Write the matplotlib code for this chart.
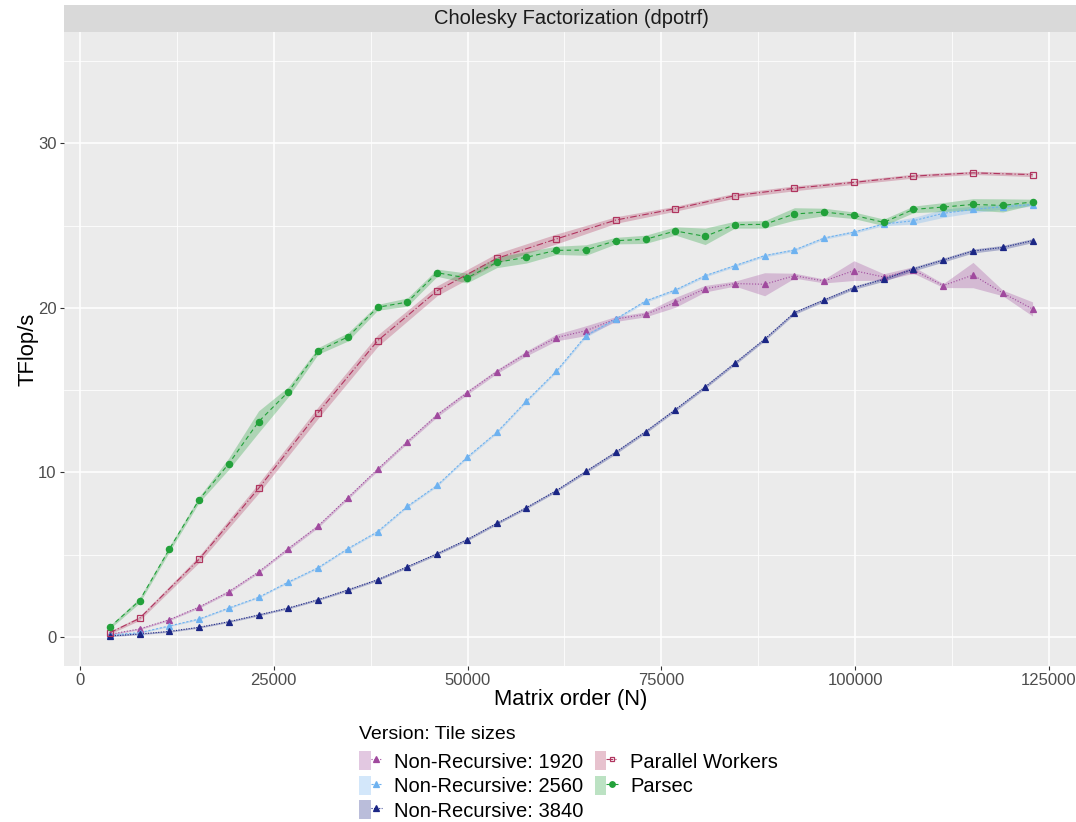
import numpy as np
import matplotlib
matplotlib.use("Agg")
import matplotlib.pyplot as plt
from matplotlib.lines import Line2D
from matplotlib.patches import Patch
from matplotlib.legend_handler import HandlerTuple

plt.rcParams['font.family'] = ['Liberation Sans', 'DejaVu Sans']

# matrix orders (N)
n_all = [3840, 7680, 11520, 15360, 19200, 23040, 26880, 30720, 34560, 38400,
         42240, 46080, 49920, 53760, 57600, 61440, 65280, 69120, 72960, 76800,
         80640, 84480, 88320, 92160, 96000, 99840, 103680, 107520, 111360,
         115200, 119040, 122880]
n_pw = [3840, 7680, 15360, 23040, 30720, 38400, 46080, 53760, 61440, 69120,
        76800, 84480, 92160, 99840, 107520, 115200, 122880]

# TFlop/s (mean) and half width of the shaded band
nr1920 = [0.16, 0.49, 1.05, 1.82, 2.75, 3.95, 5.37, 6.74, 8.46, 10.19, 11.87,
          13.49, 14.84, 16.12, 17.23, 18.19, 18.61, 19.32, 19.6, 20.33, 21.16,
          21.47, 21.43, 21.95, 21.63, 22.26, 21.87, 22.3, 21.35, 21.99, 20.9, 19.93]
nr1920_hw = [0.05, 0.05, 0.06, 0.07, 0.08, 0.08, 0.1, 0.1, 0.1, 0.1, 0.1, 0.12,
             0.12, 0.12, 0.15, 0.2, 0.3, 0.15, 0.15, 0.3, 0.2, 0.15, 0.7, 0.15,
             0.12, 0.6, 0.2, 0.2, 0.12, 0.77, 0.17, 0.43]

nr2560 = [0.12, 0.26, 0.67, 1.09, 1.76, 2.41, 3.34, 4.21, 5.37, 6.4, 7.94, 9.21,
          10.91, 12.43, 14.34, 16.14, 18.31, 19.32, 20.41, 21.08, 21.95, 22.56,
          23.17, 23.51, 24.24, 24.6, 25.09, 25.29, 25.74, 25.98, 26.14, 26.27]
nr2560_hw = [0.04, 0.04, 0.04, 0.05, 0.05, 0.05, 0.06, 0.06, 0.06, 0.07, 0.07,
             0.07, 0.08, 0.08, 0.08, 0.08, 0.1, 0.08, 0.08, 0.08, 0.08, 0.08,
             0.08, 0.08, 0.08, 0.08, 0.1, 0.2, 0.25, 0.2, 0.15, 0.1]

nr3840 = [0.06, 0.18, 0.34, 0.59, 0.93, 1.34, 1.76, 2.27, 2.86, 3.48, 4.27, 5.06,
          5.91, 6.9, 7.86, 8.89, 10.06, 11.22, 12.47, 13.81, 15.19, 16.63, 18.09,
          19.7, 20.47, 21.22, 21.73, 22.36, 22.9, 23.45, 23.67, 24.08]
nr3840_hw = [0.04, 0.04, 0.05, 0.05, 0.05, 0.06, 0.06, 0.06, 0.07, 0.07, 0.07,
             0.08, 0.08, 0.08, 0.08, 0.08, 0.1, 0.1, 0.1, 0.1, 0.1, 0.1, 0.1,
             0.1, 0.1, 0.1, 0.12, 0.12, 0.12, 0.12, 0.12, 0.12]

par_workers = [0.26, 1.13, 4.72, 9.03, 13.63, 18.0, 21.04, 23.0, 24.18, 25.33,
               26.02, 26.81, 27.26, 27.62, 28.0, 28.2, 28.09]
par_workers_hw = [0.08, 0.12, 0.2, 0.3, 0.35, 0.35, 0.3, 0.3, 0.3, 0.2, 0.15,
                  0.15, 0.15, 0.12, 0.12, 0.1, 0.12]

parsec = [0.59, 2.21, 5.33, 8.34, 10.53, 13.08, 14.9, 17.38, 18.23, 20.03, 20.35,
          22.13, 21.81, 22.76, 23.07, 23.49, 23.51, 24.08, 24.16, 24.67, 24.34,
          25.05, 25.07, 25.7, 25.82, 25.62, 25.19, 25.98, 26.12, 26.28, 26.22, 26.43]
parsec_hw = [0.1, 0.15, 0.17, 0.17, 0.35, 0.66, 0.3, 0.2, 0.25, 0.18, 0.25, 0.22,
             0.3, 0.32, 0.35, 0.25, 0.32, 0.2, 0.25, 0.25, 0.5, 0.21, 0.23, 0.38,
             0.23, 0.2, 0.2, 0.2, 0.27, 0.35, 0.4, 0.17]

series = [
    ("Non-Recursive: 1920", n_all, nr1920, nr1920_hw, "#a04a9e", "^", (0, (1, 1.6)), True),
    ("Non-Recursive: 2560", n_all, nr2560, nr2560_hw, "#6eb2f0", "^", (0, (2, 1.5)), True),
    ("Non-Recursive: 3840", n_all, nr3840, nr3840_hw, "#1b2685", "^", (0, (1, 1.3)), True),
    ("Parallel Workers", n_pw, par_workers, par_workers_hw, "#b0355f", "s", (0, (6, 2, 1, 2)), False),
    ("Parsec", n_all, parsec, parsec_hw, "#22a13a", "o", (0, (4, 3)), True),
]

W, H = 1076, 822
fig = plt.figure(figsize=(W / 100, H / 100), dpi=100)
left, right, top, bottom = 63.6, 1078.7, 32.1, 665.8
ax = fig.add_axes([left / W, 1 - bottom / H, (right - left) / W, (bottom - top) / H])
ax.set_facecolor("#ebebeb")
for sp in ax.spines.values():
    sp.set_visible(False)

handles = []
for label, x, y, hw, col, mk, ls, filled in series:
    x = np.array(x)
    y = np.array(y)
    hw = np.array(hw)
    ax.fill_between(x, y - hw, y + hw, color=col, alpha=0.3, lw=0)
    ax.plot(x, y, color=col, ls=ls, lw=0.8, marker=mk, ms=4.5 if mk != "s" else 4,
            mfc=col if filled else "none", mec=col, mew=0.9)
    ln = Line2D([], [], color=col, ls=ls, lw=0.8, marker=mk, ms=4 if mk != "s" else 3.5,
                mfc=col if filled else "none", mec=col, mew=0.9)
    handles.append((Patch(facecolor=col, alpha=0.3, edgecolor="none"), ln))

ax.set_xlim(-2112, 128832)
ax.set_ylim(-1.75, 36.75)
ax.set_xticks([0, 25000, 50000, 75000, 100000, 125000])
ax.set_xticks([12500, 37500, 62500, 87500, 112500], minor=True)
ax.set_yticks([0, 10, 20, 30])
ax.set_yticks([5, 15, 25, 35], minor=True)
ax.grid(which="major", color="white", lw=1.1)
ax.grid(which="minor", color="white", lw=0.55)
ax.set_axisbelow(True)
ax.tick_params(which="minor", length=0)
ax.tick_params(which="major", length=3, width=0.8, color="#333333",
               labelcolor="#4d4d4d", labelsize=12, pad=2)
ax.set_xlabel("Matrix order (N)", fontsize=15.8)
ax.set_ylabel("TFlop/s", fontsize=15.8)
ax.xaxis.set_label_coords(0.5, -0.037)
ax.yaxis.set_label_coords(-0.0252, 0.5)

# facet strip
strip = fig.add_axes([left / W, 1 - top / H, (right - left) / W, 27 / H])
strip.set_facecolor("#d9d9d9")
strip.set_xticks([])
strip.set_yticks([])
for sp in strip.spines.values():
    sp.set_visible(False)
strip.text(0.5, 0.5, "Cholesky Factorization (dpotrf)", ha="center", va="center",
           fontsize=14.5, color="#1a1a1a", transform=strip.transAxes)

labels = [s[0] for s in series]
leg = fig.legend(handles, labels, handler_map={tuple: HandlerTuple(ndivide=None)},
                 ncol=2, loc="upper left", bbox_to_anchor=(359 / W, 1 - 730 / H),
                 frameon=False, title="Version: Tile sizes", alignment="left",
                 fontsize=14.5, title_fontsize=14, handlelength=1.15, handleheight=1.1,
                 handletextpad=0.6, columnspacing=0.55, labelspacing=0.2,
                 borderaxespad=0, borderpad=0)
leg.get_title().set_position((0, 4))

fig.savefig("out.png", dpi=100)
